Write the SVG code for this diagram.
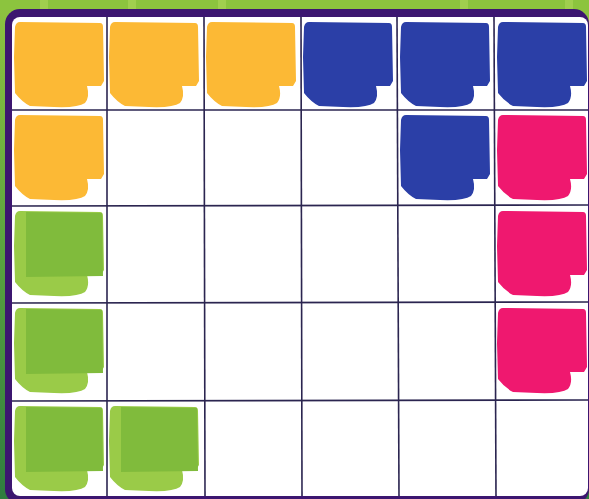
<svg xmlns="http://www.w3.org/2000/svg" width="589" height="499" viewBox="0 0 589 499">
<style>
.grid line{stroke:#2b2550;stroke-width:1.6}
.y{fill:#fcb935}
.b{fill:#2b3fa7}
.p{fill:#ef186f}
.g1{fill:#9acb48}
.g2{fill:#80bb3c}
</style>
<defs>
<linearGradient id="bg" x1="0" y1="0" x2="0" y2="1">
<stop offset="0" stop-color="#8fc440"/>
<stop offset="0.5" stop-color="#5aa33f"/>
<stop offset="1" stop-color="#2f7d3f"/>
</linearGradient>
<path id="blob" d="M8 5 L88 6 Q91 6 91 10 L92 64 L89 69 L75 69 Q78 80 73 86 Q66 91 42 90 L18 89 Q10 85 3 76 L2 40 L3 10 Q4 5 8 5 Z"/>
<path id="inner" d="M14 6 L90 7 L91 70 L14 71 Z"/>
</defs>
<rect x="0" y="0" width="589" height="499" fill="url(#bg)"/>
<rect x="0" y="0" width="589" height="10" fill="#8cc43e"/>
<rect x="40" y="0" width="8" height="9" fill="#a8d456" opacity="0.7"/>
<rect x="128" y="0" width="8" height="9" fill="#a8d456" opacity="0.7"/>
<rect x="218" y="0" width="8" height="9" fill="#a8d456" opacity="0.7"/>
<rect x="460" y="0" width="8" height="9" fill="#a8d456" opacity="0.7"/>
<rect x="565" y="0" width="8" height="9" fill="#a8d456" opacity="0.7"/>
<rect id="frame" x="5" y="9" width="584" height="495" rx="15" fill="#3c1670"/>
<rect id="board" x="12" y="17" width="576" height="479" rx="8" fill="#ffffff"/>
<g id="tiles">
<g id="r0c0"><use href="#blob" class="y" x="12" y="17"/></g>
<g id="r0c1"><use href="#blob" class="y" x="107" y="17"/></g>
<g id="r0c2"><use href="#blob" class="y" x="204" y="17"/></g>
<g id="r0c3"><use href="#blob" class="b" x="301" y="17"/></g>
<g id="r0c4"><use href="#blob" class="b" x="398" y="17"/></g>
<g id="r0c5"><use href="#blob" class="b" x="495" y="17"/></g>
<g id="r1c0"><use href="#blob" class="y" x="12" y="110"/></g>
<g id="r1c4"><use href="#blob" class="b" x="398" y="110"/></g>
<g id="r1c5"><use href="#blob" class="p" x="495" y="110"/></g>
<g id="r2c0"><use href="#blob" class="g1" x="12" y="206"/><use href="#inner" class="g2" x="12" y="206"/></g>
<g id="r2c5"><use href="#blob" class="p" x="495" y="206"/></g>
<g id="r3c0"><use href="#blob" class="g1" x="12" y="303"/><use href="#inner" class="g2" x="12" y="303"/></g>
<g id="r3c5"><use href="#blob" class="p" x="495" y="303"/></g>
<g id="r4c0"><use href="#blob" class="g1" x="12" y="401"/><use href="#inner" class="g2" x="12" y="401"/></g>
<g id="r4c1"><use href="#blob" class="g1" x="107" y="401"/><use href="#inner" class="g2" x="107" y="401"/></g>
</g>
<g id="gridlines" class="grid">
<line x1="107" y1="17" x2="107" y2="496"/>
<line x1="204" y1="17" x2="205" y2="496"/>
<line x1="301" y1="17" x2="302" y2="496"/>
<line x1="397" y1="17" x2="399" y2="496"/>
<line x1="494" y1="17" x2="496" y2="496"/>
<line x1="12" y1="110" x2="588" y2="110"/>
<line x1="12" y1="206" x2="588" y2="205"/>
<line x1="12" y1="303" x2="588" y2="302"/>
<line x1="12" y1="401" x2="588" y2="400"/>
</g>
</svg>
